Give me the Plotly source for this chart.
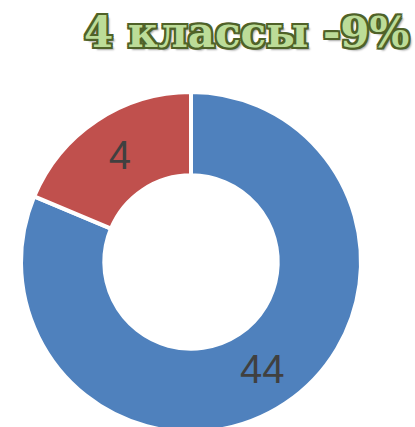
import plotly.graph_objects as go

# Data
slice_names = ["Группа A", "Группа B"]
slice_labels = ["44", "4"]
# slice shares estimated from the drawn angles in the picture
slice_shares = [81.3, 18.7]
title_text = "4 классы -9%"

colors = ["#4F81BD", "#C0504D"]

W, H = 415, 440

fig = go.Figure()
fig.add_trace(go.Pie(
    labels=slice_names,
    values=slice_shares,
    text=slice_labels,
    textinfo="text",
    textposition="inside",
    insidetextorientation="horizontal",
    textfont=dict(family="Liberation Sans, Arial, sans-serif", size=40, color="#404040"),
    hole=0.51,
    sort=False,
    direction="clockwise",
    rotation=0,
    marker=dict(colors=colors, line=dict(color="white", width=4)),
    domain=dict(x=[21 / W, 361 / W], y=[(H - 432) / H, (H - 92) / H]),
    showlegend=False,
    hoverinfo="label+value",
))

outline = "#4F6228"
shadow = ",".join([
    f"2px 0 0 {outline}", f"-2px 0 0 {outline}", f"0 2px 0 {outline}", f"0 -2px 0 {outline}",
    f"2px 2px 0 {outline}", f"-2px -2px 0 {outline}", f"2px -2px 0 {outline}", f"-2px 2px 0 {outline}",
    "3px 3px 2px rgba(0,0,0,0.35)",
])

fig.add_annotation(
    text=f"<b>{title_text}</b>",
    xref="paper", yref="paper",
    x=411 / W, y=1 - 6 / H,
    xanchor="right", yanchor="top",
    showarrow=False,
    font=dict(family="DejaVu Serif, serif", size=42, color="#BCDC98", shadow=shadow),
)

fig.update_layout(
    width=W, height=H,
    margin=dict(l=0, r=0, t=0, b=0),
    paper_bgcolor="white",
    plot_bgcolor="white",
)

fig.write_html("out.html", post_script="document.documentElement.style.overflow='hidden';document.body.style.overflow='hidden';")
